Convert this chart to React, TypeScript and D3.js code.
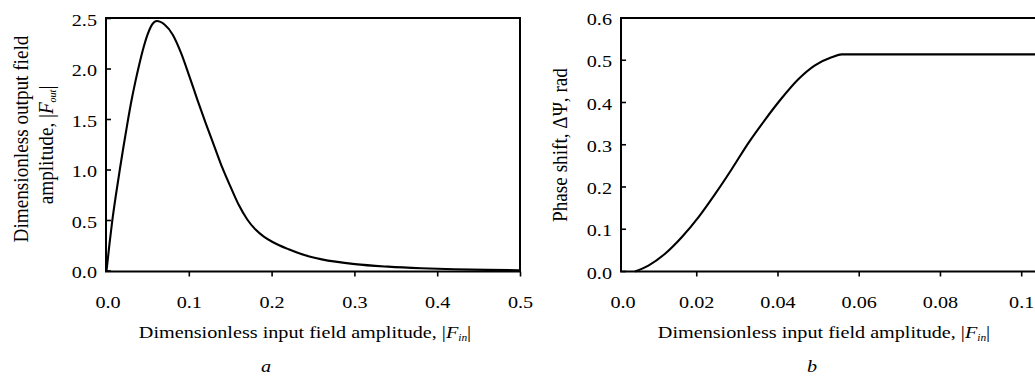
import React from "react";
import * as d3 from "d3";

// Panel a: output amplitude vs input amplitude
const aX = [0, 0.0035, 0.007, 0.0115, 0.016, 0.0205, 0.025, 0.030, 0.035, 0.040, 0.045, 0.050, 0.055, 0.0608, 0.07, 0.08, 0.09, 0.10, 0.11, 0.12, 0.13, 0.14, 0.15, 0.16, 0.17, 0.18, 0.19, 0.20, 0.22, 0.24, 0.26, 0.30, 0.34, 0.38, 0.42, 0.46, 0.5];
const aY = [0, 0.26, 0.5, 0.76, 1.0, 1.23, 1.45, 1.68, 1.88, 2.06, 2.22, 2.35, 2.44, 2.475, 2.44, 2.34, 2.16, 1.93, 1.69, 1.46, 1.24, 1.02, 0.83, 0.65, 0.51, 0.41, 0.34, 0.29, 0.215, 0.155, 0.115, 0.068, 0.043, 0.027, 0.017, 0.011, 0.008];
const aXTicks = [0, 0.1, 0.2, 0.3, 0.4, 0.5];
const aXTickLabels = ["0.0", "0.1", "0.2", "0.3", "0.4", "0.5"];
const aYTicks = [0, 0.5, 1.0, 1.5, 2.0, 2.5];
const aYTickLabels = ["0.0", "0.5", "1.0", "1.5", "2.0", "2.5"];

// Panel b: phase shift vs input amplitude
const bX = [0.0048, 0.0081, 0.0122, 0.0163, 0.0204, 0.0245, 0.0286, 0.0327, 0.0368, 0.0409, 0.045, 0.0491, 0.0532, 0.0557, 0.07, 0.09, 0.106];
const bY = [0, 0.014, 0.042, 0.081, 0.128, 0.183, 0.242, 0.304, 0.359, 0.41, 0.455, 0.488, 0.507, 0.514, 0.514, 0.514, 0.514];
const bXTicks = [0, 0.02, 0.04, 0.06, 0.08, 0.1];
const bXTickLabels = ["0.0", "0.02", "0.04", "0.06", "0.08", "0.1"];
const bYTicks = [0, 0.1, 0.2, 0.3, 0.4, 0.5, 0.6];
const bYTickLabels = ["0.0", "0.1", "0.2", "0.3", "0.4", "0.5", "0.6"];

const FONT = "'Liberation Serif', 'DejaVu Serif', serif";
const FS = 17.7;
const STRETCH = 1.14;
const FS_ROT = 19.2;
const STRETCH_ROT = 1.05;

function T(props: { x: number; y: number; anchor?: string; rotate?: boolean; italic?: boolean; children: React.ReactNode }) {
  const s = props.rotate ? STRETCH_ROT : STRETCH;
  const tr = `translate(${props.x},${props.y}) scale(${s},1)` + (props.rotate ? " rotate(-90)" : "");
  return (
    <text transform={tr} textAnchor={props.anchor || "middle"} fontFamily={FONT} fontSize={props.rotate ? FS_ROT : FS}
      fontStyle={props.italic ? "italic" : "normal"} fill="#000">
      {props.children}
    </text>
  );
}

type PanelProps = {
  xs: number[];
  ys: number[];
  xScale: d3.ScaleLinear<number, number>;
  yScale: d3.ScaleLinear<number, number>;
  left: number;
  right: number;
  top: number;
  bottom: number;
  xTicks: number[];
  xTickLabels: string[];
  yTicks: number[];
  yTickLabels: string[];
};

function Panel(p: PanelProps) {
  const line = d3
    .line<number>()
    .x((_, i) => p.xScale(p.xs[i]))
    .y((_, i) => p.yScale(p.ys[i]))
    .curve(d3.curveMonotoneX);
  const path = line(p.xs) || "";
  return (
    <g>
      <path d={path} fill="none" stroke="#000" strokeWidth={2.1} strokeLinejoin="round" />
      <rect x={p.left} y={p.top} width={p.right - p.left} height={p.bottom - p.top} fill="none" stroke="#000" strokeWidth={2} />
      {p.xTicks.map((t, i) => {
        const x = Math.max(p.xScale(t), p.left + 2);
        return (
          <g key={"xt" + i}>
            {t !== 0 && <line x1={x} x2={x} y1={p.bottom} y2={p.bottom + 5} stroke="#000" strokeWidth={1.6} />}
            <T x={x} y={p.bottom + 36}>{p.xTickLabels[i]}</T>
          </g>
        );
      })}
      {p.yTicks.map((t, i) => {
        const y = p.yScale(t);
        return (
          <g key={"yt" + i}>
            <line x1={p.left} x2={p.left + 5} y1={y} y2={y} stroke="#000" strokeWidth={1.6} />
            <T x={p.left - 9} y={y + 7} anchor="end">{p.yTickLabels[i]}</T>
          </g>
        );
      })}
    </g>
  );
}

export default function App() {
  const aLeft = 106, aRight = 520, top = 18, bottom = 271.5;
  const xA = d3.scaleLinear().domain([0, 0.5]).range([106.5, 520.5]);
  const yA = d3.scaleLinear().domain([0, 2.5]).range([271, 18.5]);
  const xB = d3.scaleLinear().domain([0, 0.1]).range([615.5, 1021.7]);
  const yB = d3.scaleLinear().domain([0, 0.6]).range([271.5, 18]);
  const bLeft = 621, bRight = xB(0.106);

  const sub = (s: string) => (
    <tspan fontSize={10} fontStyle="italic" dy={3}>{s}</tspan>
  );
  const xTitle = (
    <>
      Dimensionless input field amplitude, |<tspan fontStyle="italic">F</tspan>{sub("in")}<tspan dy={-3}>|</tspan>
    </>
  );

  return (
    <svg width={1035} height={376} style={{ position: "absolute", left: 0, top: 0, background: "#fff" }}>
      <Panel xs={aX} ys={aY} xScale={xA} yScale={yA} left={aLeft} right={aRight} top={top} bottom={bottom}
        xTicks={aXTicks} xTickLabels={aXTickLabels} yTicks={aYTicks} yTickLabels={aYTickLabels} />
      <Panel xs={bX} ys={bY} xScale={xB} yScale={yB} left={bLeft} right={bRight} top={top} bottom={bottom}
        xTicks={bXTicks} xTickLabels={bXTickLabels} yTicks={bYTicks} yTickLabels={bYTickLabels} />

      {/* Panel a titles */}
      <T x={305} y={338}>{xTitle}</T>
      <T x={28} y={139} rotate>Dimensionless output field</T>
      <T x={53} y={145} rotate>
        amplitude, |<tspan fontStyle="italic">F</tspan>{sub("out")}<tspan dy={-3}>|</tspan>
      </T>
      <T x={266} y={372} italic>a</T>

      {/* Panel b titles */}
      <T x={824} y={338}>{xTitle}</T>
      <T x={567} y={145} rotate>Phase shift, ΔΨ, rad</T>
      <T x={812} y={372} italic>b</T>
    </svg>
  );
}
